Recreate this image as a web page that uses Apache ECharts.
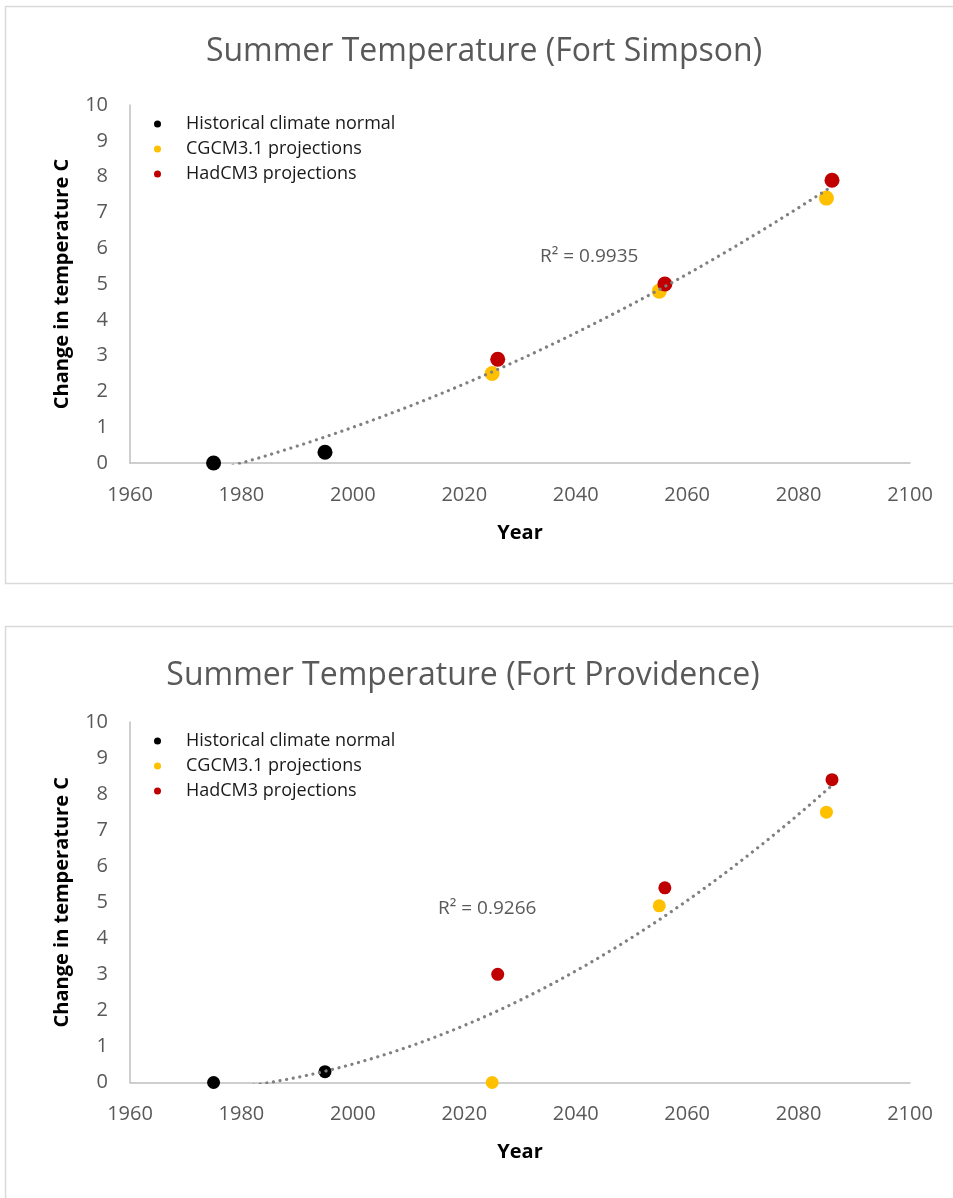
<!DOCTYPE html>
<html>
<head>
<meta charset="utf-8">
<script src="https://cdn.jsdelivr.net/npm/echarts@6/dist/echarts.min.js"></script>
<style>
html,body{margin:0;padding:0;background:#fff;}
#chart{width:953px;height:1198px;}
</style>
</head>
<body>
<div id="chart"></div>
<script>
// ---- data ----
const seriesNames = ['Historical climate normal', 'CGCM3.1 projections', 'HadCM3 projections'];
const chartTitles = ['Summer Temperature (Fort Simpson)', 'Summer Temperature (Fort Providence)'];
const r2Labels = ['R\u00b2 = 0.9935', 'R\u00b2 = 0.9266'];
const histYears = [1975, 1995];
const cgcmYears = [2025, 2055, 2085];
const hadYears = [2026, 2056, 2086];
const simpsonHist = [0, 0.3];
const simpsonCgcm = [2.5, 4.8, 7.4];
const simpsonHad = [2.9, 5.0, 7.9];
const provHist = [0, 0.3];
const provCgcm = [0, 4.9, 7.5];
const provHad = [3.0, 5.4, 8.4];
const xAxisName = 'Year';
const yAxisName = 'Change in temperature C';
const xMin = 1960, xMax = 2100, xStep = 20;
const yMin = 0, yMax = 10, yStep = 1;

const colors = ['#000000', '#FFC000', '#C00000'];
const FONT = '"Open Sans", sans-serif';

function pairs(xs, ys) { return xs.map((x, i) => [x, ys[i]]); }

// quadratic least-squares trendline (like Excel polynomial order 2)
function quadFit(pts) {
  const x0 = 2000;
  let S = [0,0,0,0,0], T = [0,0,0];
  pts.forEach(([x, y]) => {
    const t = x - x0;
    for (let k = 0; k < 5; k++) S[k] += Math.pow(t, k);
    for (let k = 0; k < 3; k++) T[k] += y * Math.pow(t, k);
  });
  const A = [[S[0],S[1],S[2],T[0]],[S[1],S[2],S[3],T[1]],[S[2],S[3],S[4],T[2]]];
  for (let i = 0; i < 3; i++) {
    let p = i;
    for (let r = i+1; r < 3; r++) if (Math.abs(A[r][i]) > Math.abs(A[p][i])) p = r;
    [A[i], A[p]] = [A[p], A[i]];
    for (let r = 0; r < 3; r++) if (r !== i) {
      const f = A[r][i] / A[i][i];
      for (let c = i; c < 4; c++) A[r][c] -= f * A[i][c];
    }
  }
  const c = [A[0][3]/A[0][0], A[1][3]/A[1][1], A[2][3]/A[2][2]];
  return x => { const t = x - x0; return c[0] + c[1]*t + c[2]*t*t; };
}
function trendPoints(all) {
  const f = quadFit(all);
  const xs = all.map(p => p[0]);
  const lo = Math.min(...xs), hi = Math.max(...xs);
  const out = [];
  for (let x = lo; x <= hi + 1e-9; x += 0.5) out.push([x, f(x)]);
  return out;
}

const charts = [
  { hist: pairs(histYears, simpsonHist), cgcm: pairs(cgcmYears, simpsonCgcm), had: pairs(hadYears, simpsonHad), top: 105, height: 358, sym: 15 },
  { hist: pairs(histYears, provHist), cgcm: pairs(cgcmYears, provCgcm), had: pairs(hadYears, provHad), top: 722, height: 360.5, sym: 13 }
];

const grid = [], xAxis = [], yAxis = [], series = [], legend = [];
charts.forEach((c, i) => {
  grid.push({ left: 130, top: c.top, width: 780, height: c.height, containLabel: false });
  xAxis.push({
    type: 'value', gridIndex: i, min: xMin, max: xMax, interval: xStep,
    name: xAxisName, nameLocation: 'middle', nameGap: 60,
    nameTextStyle: { fontFamily: FONT, fontSize: 20, fontWeight: 'bold', color: '#000' },
    axisLine: { show: true, onZero: false, lineStyle: { color: '#BFBFBF', width: 1.5 } },
    axisTick: { show: false }, splitLine: { show: false },
    axisLabel: { fontFamily: FONT, fontSize: 20, color: '#595959', margin: 22, formatter: v => String(v) }
  });
  yAxis.push({
    type: 'value', gridIndex: i, min: yMin, max: yMax, interval: yStep,
    name: yAxisName, nameLocation: 'middle', nameGap: 58,
    nameTextStyle: { fontFamily: FONT, fontSize: 20, fontWeight: 'bold', color: '#000' },
    axisLine: { show: true, lineStyle: { color: '#BFBFBF', width: 1.5 } },
    axisTick: { show: false }, splitLine: { show: false },
    axisLabel: { fontFamily: FONT, fontSize: 20, color: '#595959', margin: 22 }
  });
  legend.push({
    data: seriesNames, orient: 'vertical', left: 149, top: c.top + 4,
    icon: 'circle', itemWidth: 47, itemHeight: 7, itemGap: 5,
    textStyle: { fontFamily: FONT, fontSize: 18, color: '#1a1a1a', lineHeight: 20 },
    selectedMode: false
  });
  [c.hist, c.cgcm, c.had].forEach((d, k) => {
    series.push({
      type: 'scatter', name: seriesNames[k], xAxisIndex: i, yAxisIndex: i,
      data: d, symbol: 'circle', symbolSize: c.sym, clip: false, z: 2,
      itemStyle: { color: colors[k], opacity: 1 }
    });
  });
  series.push({
    type: 'line', name: 'trend', xAxisIndex: i, yAxisIndex: i,
    data: trendPoints([...c.hist, ...c.cgcm, ...c.had]),
    showSymbol: false, symbol: 'none', smooth: false, clip: true, z: 5, silent: true,
    lineStyle: { color: '#808080', width: 3.2, type: [0.01, 6.7], cap: 'round' }
  });
});

const graphic = [
  { type: 'rect', shape: { x: 5.5, y: 6.5, width: 1000, height: 577 }, style: { fill: 'none', stroke: '#D9D9D9', lineWidth: 1.5 }, silent: true },
  { type: 'rect', shape: { x: 5.5, y: 626.5, width: 1000, height: 700 }, style: { fill: 'none', stroke: '#D9D9D9', lineWidth: 1.5 }, silent: true },
  { type: 'text', x: 484, y: 52, style: { text: chartTitles[0], fill: '#595959', font: '32px ' + FONT, align: 'center', verticalAlign: 'middle' } },
  { type: 'text', x: 463, y: 676, style: { text: chartTitles[1], fill: '#595959', font: '32px ' + FONT, align: 'center', verticalAlign: 'middle' } },
  { type: 'text', x: 540, y: 257, style: { text: r2Labels[0], fill: '#595959', font: '19px ' + FONT, align: 'left', verticalAlign: 'middle' } },
  { type: 'text', x: 438, y: 909, style: { text: r2Labels[1], fill: '#595959', font: '19px ' + FONT, align: 'left', verticalAlign: 'middle' } }
];

const chart = echarts.init(document.getElementById('chart'), null, { renderer: 'canvas' });
chart.setOption({
  animation: false,
  backgroundColor: '#fff',
  grid, xAxis, yAxis, legend, series, graphic
});
</script>
</body>
</html>
